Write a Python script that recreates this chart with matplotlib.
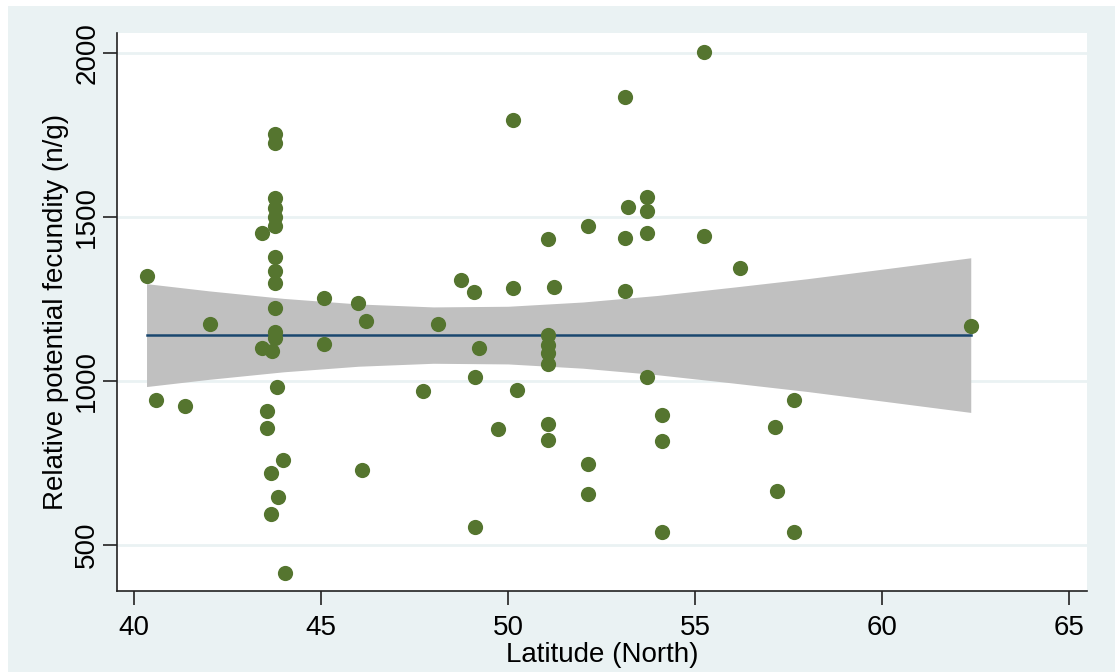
import numpy as np
import matplotlib
matplotlib.use("Agg")
import matplotlib.pyplot as plt
from matplotlib.patches import Rectangle

# Stata-like look
rc = {'font.family': ['Liberation Sans', 'DejaVu Sans'],
      'font.size': 20,
      'xtick.labelsize': 20, 'ytick.labelsize': 20,
      'axes.labelsize': 20}
plt.rcParams.update(**rc)

BG = "#EAF2F3"
DOT = "#55752F"
NAVY = "#1A476F"
BAND = "#C0C0C0"

# points: latitude (North) vs relative potential fecundity (n/g)
latitude = [40.33, 40.59, 41.36, 42.04,
            43.76, 43.76, 43.76, 43.76, 43.76, 43.76, 43.76, 43.76, 43.76, 43.76, 43.76, 43.76,
            43.43, 43.43, 43.69, 43.82, 43.54, 43.54, 43.99, 43.67, 43.84, 43.67, 44.03,
            45.07, 45.07, 46.00, 46.20, 46.09, 47.72, 48.14, 48.74, 49.10, 49.23, 49.13, 49.13, 49.73,
            50.13, 50.14, 50.24, 51.07, 51.07, 51.07, 51.07, 51.07, 51.07, 51.07, 51.23,
            52.13, 52.13, 52.13, 53.12, 53.22, 53.12, 53.12, 53.72, 53.72, 53.72, 53.72,
            54.11, 54.11, 54.11, 55.24, 55.24, 56.22, 57.13, 57.21, 57.66, 57.66, 62.38]
fecundity = [1321, 941, 924, 1173,
             1753, 1725, 1557, 1528, 1501, 1473, 1379, 1336, 1298, 1223, 1150, 1130,
             1452, 1100, 1091, 983, 909, 857, 759, 719, 645, 595, 415,
             1254, 1112, 1239, 1183, 728, 970, 1173, 1308, 1273, 1101, 1012, 555, 854,
             1798, 1283, 973, 1434, 1140, 1110, 1084, 1051, 868, 820, 1286,
             1472, 747, 656, 1867, 1530, 1435, 1274, 1560, 1518, 1453, 1011,
             896, 816, 539, 2003, 1443, 1345, 861, 665, 941, 540, 1169]

# fitted line and 95% CI band
fit_x = [40.33, 62.38]
fit_y = [1140, 1140]
band_x = [40.33, 42, 44, 46, 48, 50, 52, 54, 56, 58, 60, 62.38]
band_hi = [1297, 1275, 1252, 1235, 1226, 1228, 1241, 1261, 1286, 1312, 1341, 1376]
band_lo = [983, 1005, 1028, 1045, 1054, 1052, 1039, 1019, 994, 968, 939, 904]

xticks = [40, 45, 50, 55, 60, 65]
yticks = [500, 1000, 1500, 2000]

fig = plt.figure(figsize=(11.15, 6.72), dpi=100, facecolor="white")
# graph region (light blue with a thin white margin top/left)
fig.patches.append(Rectangle((8 / 1115, 0), 1 - 8 / 1115, 1 - 6 / 672,
                             transform=fig.transFigure, facecolor=BG,
                             edgecolor="none", zorder=-10))

ax = fig.add_axes([117 / 1115, 81 / 672, 970 / 1115, 558 / 672])
ax.set_facecolor("white")

ax.fill_between(band_x, band_lo, band_hi, color=BAND, linewidth=0, zorder=2)
ax.plot(fit_x, fit_y, color=NAVY, linewidth=1.8, zorder=3)
ax.scatter(latitude, fecundity, s=120, color=DOT, linewidths=0, zorder=4)

ax.set_xlim(39.54, 65.49)
ax.set_ylim(359, 2062)
ax.set_xticks(xticks)
ax.set_yticks(yticks)
ax.set_yticklabels([str(t) for t in yticks], rotation=90, va="center")

ax.grid(axis="y", color=BG, linewidth=2, zorder=0)
ax.set_axisbelow(True)
for side in ["top", "right"]:
    ax.spines[side].set_visible(False)
for side in ["left", "bottom"]:
    ax.spines[side].set_color("#222222")
    ax.spines[side].set_linewidth(1.2)
ax.tick_params(length=10, width=1.2, color="#222222")
ax.tick_params(axis="x", pad=7)
ax.tick_params(axis="y", pad=2)

ax.set_xlabel("Latitude (North)", labelpad=1)
ax.set_ylabel("Relative potential fecundity (n/g)", labelpad=4)

fig.savefig("out.png", dpi=100, facecolor=fig.get_facecolor())
